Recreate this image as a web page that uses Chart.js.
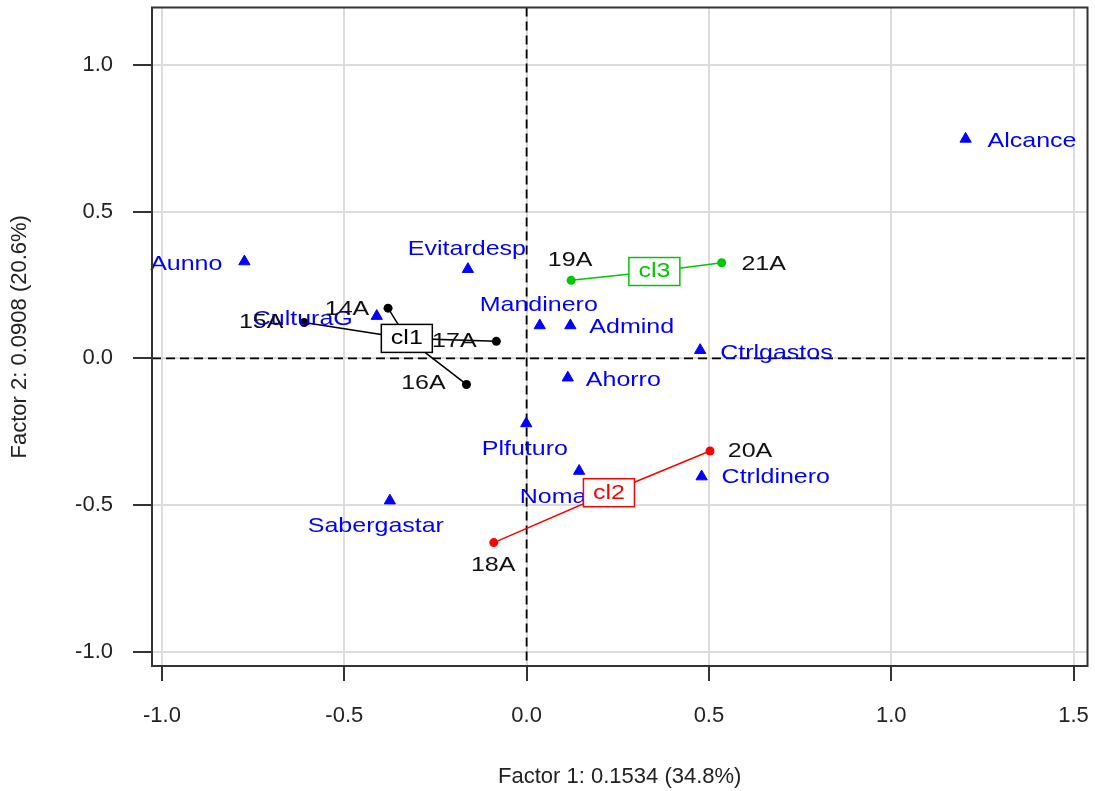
<!DOCTYPE html>
<html>
<head>
<meta charset="utf-8">
<script src="https://cdn.jsdelivr.net/npm/chart.js@4.4.1/dist/chart.umd.min.js"></script>
<style>
  html, body { margin: 0; padding: 0; background: #fff; }
</style>
</head>
<body>
<canvas id="chart" width="1095" height="791"></canvas>
<script>
// Active categories (blue triangles)
const colNames = ["Aunno", "Evitardesp", "CulturaG", "Mandinero", "Admind", "Ctrlgastos",
                  "Ahorro", "Plfuturo", "Noma", "Ctrldinero", "Sabergastar", "Alcance"];
const colX = [-0.774, -0.161, -0.411, 0.036, 0.120, 0.476, 0.113, -0.001, 0.144, 0.480, -0.375, 1.204];
const colY = [0.330, 0.304, 0.144, 0.112, 0.112, 0.028, -0.066, -0.222, -0.384, -0.403, -0.485, 0.748];

// Individuals and their cluster
const rowNames = ["14A", "15A", "16A", "17A", "18A", "20A", "19A", "21A"];
const rowX = [-0.380, -0.610, -0.165, -0.083, -0.090, 0.503, 0.122, 0.535];
const rowY = [0.171, 0.122, -0.089, 0.058, -0.628, -0.316, 0.266, 0.326];
const rowCluster = [0, 0, 0, 0, 1, 1, 2, 2];

// Cluster centres
const clusterNames = ["cl1", "cl2", "cl3"];
const clusterX = [-0.3285, 0.2258, 0.3504];
const clusterY = [0.068, -0.458, 0.296];

const xTicks = [-1.0, -0.5, 0.0, 0.5, 1.0, 1.5];
const yTicks = [-1.0, -0.5, 0.0, 0.5, 1.0];
const xTitle = "Factor 1: 0.1534 (34.8%)";
const yTitle = "Factor 2: 0.0908 (20.6%)";

// styling
const clusterColors = ["#000000", "#ff0000", "#00c800"];
const colLabelPos = {
    Aunno: [-22, 2.5, "right"], Evitardesp: [-1, -20, "center"], CulturaG: [-24, 3, "right"],
    Mandinero: [-1, -20.5, "center"], Admind: [19, 2, "left"], Ctrlgastos: [20, 3.4, "left"],
    Ahorro: [18, 2.3, "left"], Plfuturo: [-1.4, 26, "center"], Noma: [-26, 26.4, "center"],
    Ctrldinero: [20, 1, "left"], Sabergastar: [-14, 26, "center"], Alcance: [22, 2.6, "left"]
};
const rowLabelPos = {
    "14A": [-41, 1], "15A": [-43, 0], "16A": [-43, -1], "17A": [-42, 0],
    "18A": [-0.6, 23], "20A": [40, 0], "19A": [-1, -20], "21A": [42, 1]
};
const STRETCH = 1.19;
const LABEL_FONT = "21px 'Liberation Sans', Arial, sans-serif";

function stretchedText(ctx, text, x, y, align, color) {
    ctx.save();
    ctx.translate(x, y);
    ctx.scale(STRETCH, 1);
    ctx.textAlign = align;
    ctx.textBaseline = "middle";
    ctx.fillStyle = color;
    ctx.fillText(text, 0, 0);
    ctx.restore();
}

const factorPlot = {
    id: "factorPlot",
    beforeDatasetsDraw(chart) {
        const { ctx, chartArea: a, scales: { x, y } } = chart;
        const x0 = x.getPixelForValue(0);
        const y0 = y.getPixelForValue(0);
        ctx.save();
        ctx.strokeStyle = "#000";
        ctx.lineWidth = 1.8;
        ctx.setLineDash([9, 5]);
        ctx.beginPath();
        ctx.moveTo(x0, a.top);
        ctx.lineTo(x0, a.bottom);
        ctx.moveTo(a.left, y0);
        ctx.lineTo(a.right, y0);
        ctx.stroke();
        ctx.restore();
    },
    afterDatasetsDraw(chart) {
        const { ctx, scales: { x, y } } = chart;
        ctx.save();
        ctx.font = LABEL_FONT;
        colNames.forEach((name, i) => {
            const [dx, dy, align] = colLabelPos[name];
            stretchedText(ctx, name, x.getPixelForValue(colX[i]) + dx, y.getPixelForValue(colY[i]) + dy, align, "#0000ff");
        });
        rowNames.forEach((name, i) => {
            const [dx, dy] = rowLabelPos[name];
            stretchedText(ctx, name, x.getPixelForValue(rowX[i]) + dx, y.getPixelForValue(rowY[i]) + dy, "center", "#111");
        });
        clusterNames.forEach((name, k) => {
            const cx = x.getPixelForValue(clusterX[k]);
            const cy = y.getPixelForValue(clusterY[k]);
            const w = 51, h = 28;
            ctx.fillStyle = "#fff";
            ctx.fillRect(cx - w / 2, cy - h / 2, w, h);
            ctx.strokeStyle = clusterColors[k];
            ctx.lineWidth = 1.5;
            ctx.strokeRect(cx - w / 2, cy - h / 2, w, h);
            stretchedText(ctx, name, cx, cy, "center", clusterColors[k]);
        });
        ctx.restore();
    },
    afterDraw(chart) {
        const { ctx, chartArea: a } = chart;
        ctx.save();
        ctx.strokeStyle = "#333";
        ctx.lineWidth = 2;
        ctx.strokeRect(a.left, a.top, a.right - a.left, a.bottom - a.top);
        ctx.restore();
    }
};

// lines from each individual to its cluster centre
const starDatasets = clusterNames.map((name, k) => {
    const pts = [];
    rowNames.forEach((r, i) => {
        if (rowCluster[i] === k) {
            pts.push({ x: clusterX[k], y: clusterY[k] });
            pts.push({ x: rowX[i], y: rowY[i] });
        }
    });
    return {
        label: name + " links",
        data: pts,
        showLine: true,
        borderColor: clusterColors[k],
        borderWidth: 1.5,
        pointRadius: 0,
        order: 3
    };
});

const rowDatasets = clusterNames.map((name, k) => ({
    label: name,
    data: rowNames.map((r, i) => ({ x: rowX[i], y: rowY[i], c: rowCluster[i] })).filter(p => p.c === k),
    pointStyle: "circle",
    pointRadius: 4.5,
    backgroundColor: clusterColors[k],
    borderColor: clusterColors[k],
    borderWidth: 0,
    order: 2
}));

const colDataset = {
    label: "categories",
    data: colNames.map((n, i) => ({ x: colX[i], y: colY[i] })),
    pointStyle: "triangle",
    pointRadius: 6.5,
    backgroundColor: "#0000ff",
    borderColor: "#0000ff",
    borderWidth: 1,
    order: 1
};

const axisFont = { family: "'Liberation Sans', Arial, sans-serif", size: 22 };

new Chart(document.getElementById("chart"), {
    type: "scatter",
    data: { datasets: [...starDatasets, ...rowDatasets, colDataset] },
    options: {
        responsive: false,
        animation: false,
        layout: { padding: { top: 7, right: 6, left: 0, bottom: 0 } },
        plugins: {
            legend: { display: false },
            tooltip: { enabled: false }
        },
        scales: {
            x: {
                type: "linear",
                min: -1.0274,
                max: 1.5383,
                afterBuildTicks: (scale) => { scale.ticks = xTicks.map(v => ({ value: v })); },
                afterFit: (scale) => { scale.height = 125; scale.paddingLeft = 0; scale.paddingRight = 0; },
                grid: { color: "#dcdcdc", lineWidth: 2, tickColor: "#333", tickWidth: 2, tickLength: 15 },
                border: { display: false },
                ticks: {
                    autoSkip: false,
                    maxRotation: 0,
                    padding: 22,
                    color: "#222",
                    font: axisFont,
                    callback: (v) => Number(v).toFixed(1)
                },
                title: { display: true, text: xTitle, color: "#222", font: axisFont, padding: { top: 0, bottom: 1 } }
            },
            y: {
                type: "linear",
                min: -1.0487,
                max: 1.196,
                afterBuildTicks: (scale) => { scale.ticks = yTicks.map(v => ({ value: v })); },
                afterFit: (scale) => { scale.width = 152; scale.paddingTop = 0; scale.paddingBottom = 0; },
                grid: { color: "#dcdcdc", lineWidth: 2, tickColor: "#333", tickWidth: 2, tickLength: 19 },
                border: { display: false },
                ticks: {
                    autoSkip: false,
                    padding: 20,
                    color: "#222",
                    font: axisFont,
                    callback: (v) => Number(v).toFixed(1)
                },
                title: { display: true, text: yTitle, color: "#222", font: axisFont, padding: { top: 7, bottom: 0 } }
            }
        }
    },
    plugins: [factorPlot]
});
</script>
</body>
</html>
